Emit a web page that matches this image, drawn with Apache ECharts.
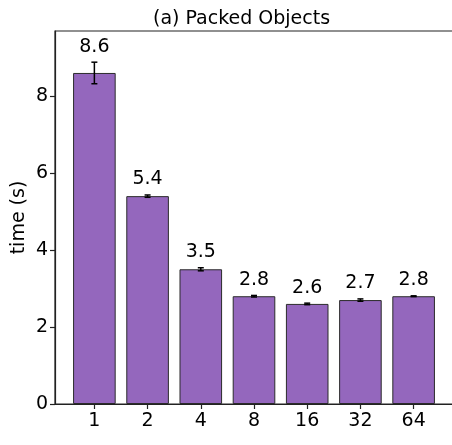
<!DOCTYPE html>
<html>
<head>
<meta charset="utf-8">
<script src="https://cdn.jsdelivr.net/npm/echarts@6/dist/echarts.min.js"></script>
<style>
  html, body { margin: 0; padding: 0; background: #fff; }
  #chart { width: 452px; height: 445px; }
</style>
</head>
<body>
<div id="chart"></div>
<script>
// Thread counts on the x axis
const categories = ['1', '2', '4', '8', '16', '32', '64'];
// Mean run time (s) per thread count
const times = [8.6, 5.4, 3.5, 2.8, 2.6, 2.7, 2.8];
// Error bar half-heights (s)
const errors = [0.28, 0.03, 0.04, 0.02, 0.02, 0.03, 0.01];
// Y axis tick values
const yTicks = [0, 2, 4, 6, 8];

const FONT = 'DejaVu Sans';
const positions = categories.map((_, i) => i);

const barData = times.map((t, i) => [i, t]);
const errData = times.map((t, i) => [i, t - errors[i], t + errors[i], t]);

const chart = echarts.init(document.getElementById('chart'), null, { renderer: 'canvas' });

chart.setOption({
  animation: false,
  backgroundColor: '#ffffff',
  title: {
    text: '(a) Packed Objects',
    left: 148,
    top: 5,
    textStyle: { fontFamily: FONT, fontSize: 19, fontWeight: 'normal', color: '#000' }
  },
  grid: {
    left: 55, top: 31, width: 398, height: 373,
    containLabel: false,
    outerBoundsMode: 'none',
    show: true, borderColor: '#222', borderWidth: 1.2
  },
  xAxis: {
    type: 'value',
    min: -0.74,
    max: 6.74,
    splitLine: { show: false },
    axisLine: { show: true, onZero: false, lineStyle: { color: '#222', width: 1.2 } },
    axisTick: { show: true, length: 5, customValues: positions, lineStyle: { color: '#222', width: 1.2 } },
    axisLabel: {
      customValues: positions,
      formatter: v => categories[Math.round(v)],
      fontFamily: FONT, fontSize: 19, color: '#000', margin: 8
    }
  },
  yAxis: {
    type: 'value',
    min: 0,
    max: 9.69,
    name: 'time (s)',
    nameLocation: 'middle',
    nameRotate: 90,
    nameGap: 26,
    nameMoveOverlap: false,
    nameTextStyle: { fontFamily: FONT, fontSize: 19, color: '#000' },
    splitLine: { show: false },
    axisLine: { show: true, onZero: false, lineStyle: { color: '#222', width: 1.2 } },
    axisTick: { show: true, length: 5, customValues: yTicks, lineStyle: { color: '#222', width: 1.2 } },
    axisLabel: {
      customValues: yTicks,
      fontFamily: FONT, fontSize: 19, color: '#000', margin: 7
    }
  },
  series: [
    {
      type: 'bar',
      data: barData,
      barWidth: 42.6,
      itemStyle: { color: '#9467bd', borderColor: '#2b2b2b', borderWidth: 1 }
    },
    {
      type: 'custom',
      data: errData,
      z: 10,
      renderItem: function (params, api) {
        const x = api.value(0);
        const top = api.coord([x, api.value(2)]);
        const bot = api.coord([x, api.value(1)]);
        const cap = 3;
        const style = { stroke: '#000', lineWidth: 1.5 };
        return {
          type: 'group',
          children: [
            { type: 'line', shape: { x1: top[0], y1: top[1], x2: bot[0], y2: bot[1] }, style },
            { type: 'line', shape: { x1: top[0] - cap, y1: top[1], x2: top[0] + cap, y2: top[1] }, style },
            { type: 'line', shape: { x1: bot[0] - cap, y1: bot[1], x2: bot[0] + cap, y2: bot[1] }, style },
            {
              type: 'text',
              x: top[0],
              y: top[1] - 6,
              style: {
                text: api.value(3).toFixed(1),
                fontFamily: FONT, fontSize: 19, fill: '#000',
                align: 'center', verticalAlign: 'bottom'
              }
            }
          ]
        };
      }
    }
  ]
});
</script>
</body>
</html>
